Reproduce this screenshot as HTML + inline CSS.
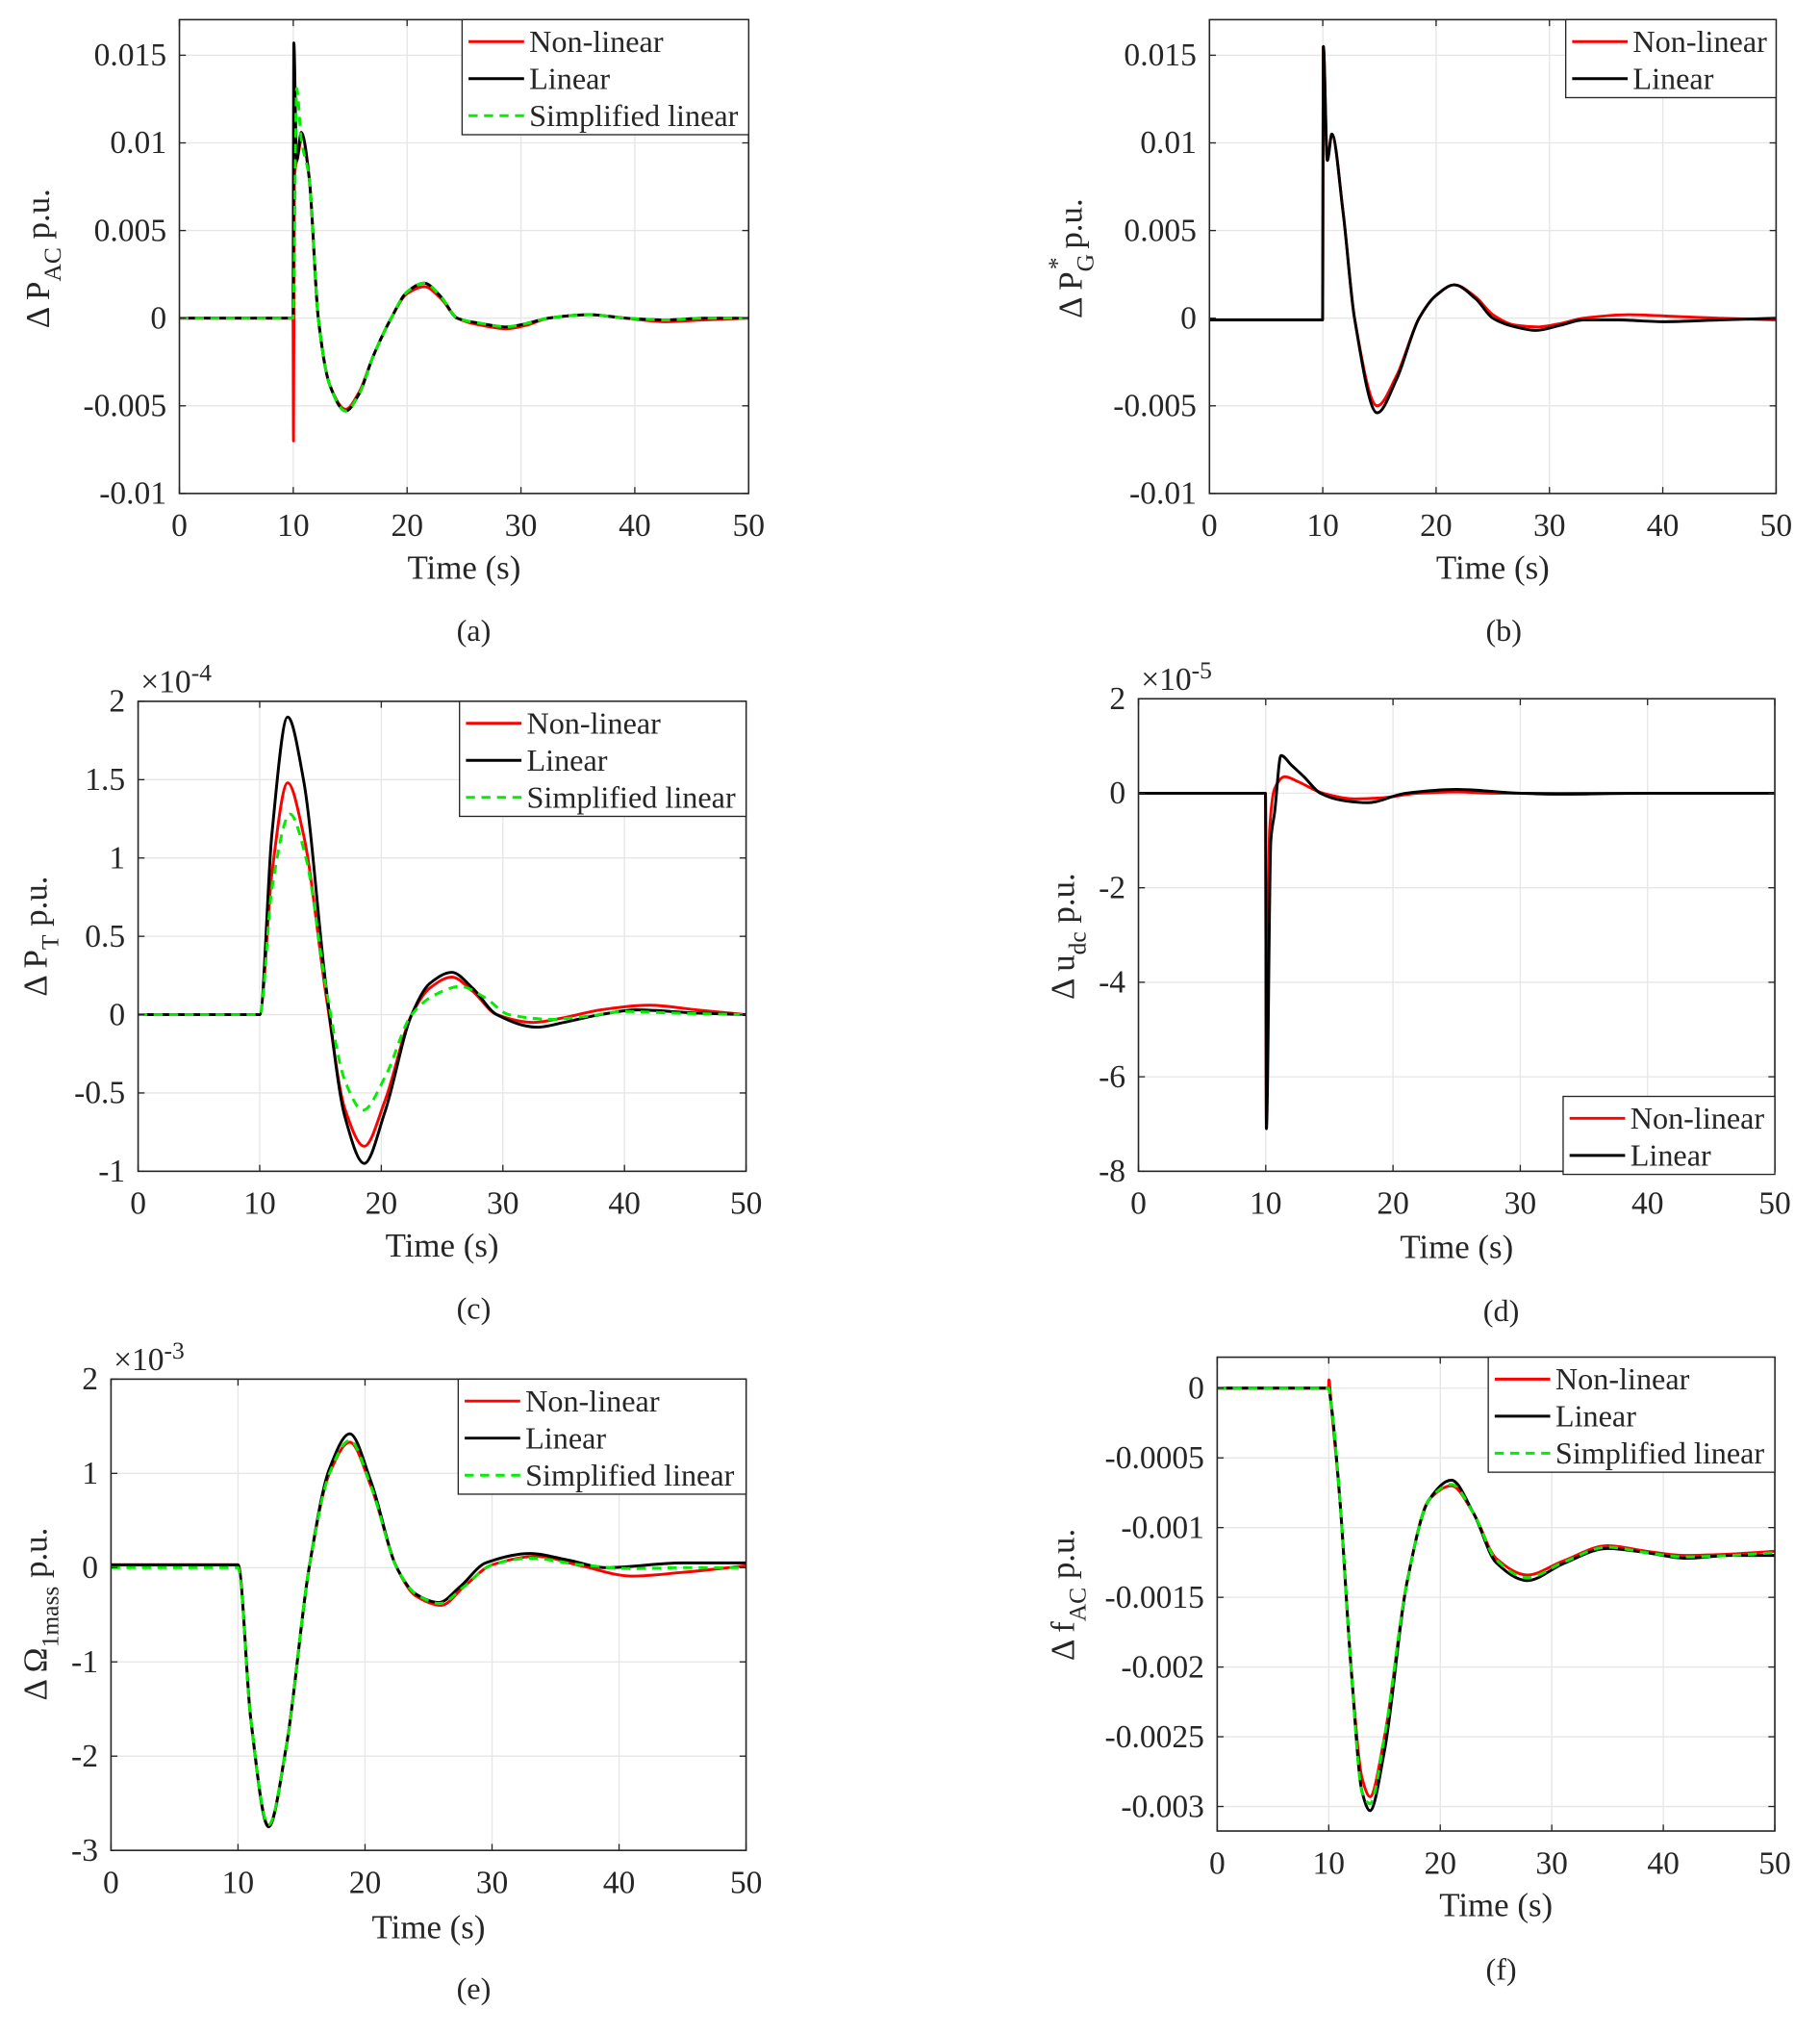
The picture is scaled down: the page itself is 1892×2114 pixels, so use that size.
<!DOCTYPE html>
<html><head><meta charset="utf-8"><style>
html,body{margin:0;padding:0;background:#fff}
svg{display:block}
text{font-family:"Liberation Serif",serif;fill:#262626}
</style></head><body>
<svg id="fig" width="1892" height="2114" viewBox="0 0 1410 1575" xmlns="http://www.w3.org/2000/svg"></svg>
<script>
// ---------- Panel (a) ----------
const aNonT=[0,9.98,10.02,10.1,10.4,10.8,11.4,12.2,13.2,14.6,15.8,17,18.6,20,21.5,23,24.4,26.5,28.7,30.5,32.4,36,39.2,42.8,46,50];
const aNonV=[0,0,-0.007,0.008,0.0092,0.0104,0.008,0.0,-0.0038,-0.0052,-0.0042,-0.0022,0.0,0.0014,0.0018,0.0011,0.0,-0.0004,-0.0006,-0.0004,0.0,0.0002,0.0,-0.0002,-0.0001,0];
const aLinT=[0,9.98,10.05,10.3,10.7,11.4,12.2,13.2,14.6,15.8,17,18.6,20,21.5,23,24.4,26.5,28.7,30.5,32.4,36,39.2,42.8,46,50];
const aLinV=[0,0,0.0157,0.009,0.0106,0.008,0.0,-0.0038,-0.0053,-0.0043,-0.0022,0.0,0.0015,0.002,0.0012,0.0,-0.0003,-0.0005,-0.0003,0.0,0.0002,0.0,-0.0001,0,0];
const aSimT=[0,9.98,10.3,10.7,11.4,12.2,13.2,14.6,15.8,17,18.6,20,21.5,23,24.4,26.5,28.7,30.5,32.4,36,39.2,42.8,46,50];
const aSimV=[0,0,0.0131,0.0102,0.008,0.0,-0.0038,-0.0053,-0.0043,-0.0022,0.0,0.0015,0.002,0.0012,0.0,-0.0003,-0.0005,-0.0003,0.0,0.0002,0.0,-0.0001,0,0];
const aYTicks=[-0.01,-0.005,0,0.005,0.01,0.015];
const aYLabels=["-0.01","-0.005","0","0.005","0.01","0.015"];
// ---------- Panel (b) ----------
const bNonT=[0,9.98,10.05,10.4,10.8,11.8,12.8,14.8,16.5,18.5,20,21.6,23.5,25,27,29,31,33,37,41,45,50];
const bNonV=[-0.0001,-0.0001,0.0155,0.009,0.0105,0.006,0.0,-0.005,-0.0033,0.0,0.0013,0.0019,0.0012,0.0002,-0.0004,-0.0005,-0.0003,0.0,0.0002,0.0001,0,-0.0001];
const bLinT=[0,9.98,10.05,10.4,10.8,11.8,12.8,14.8,16.5,18.5,20,21.6,23.5,25,27,28.8,31,33,36,40,45,50];
const bLinV=[-0.0001,-0.0001,0.0155,0.009,0.0105,0.006,0.0,-0.0054,-0.0035,0.0,0.0013,0.0019,0.0011,0.0,-0.0005,-0.0007,-0.0004,-0.0001,-0.0001,-0.0002,-0.0001,0];
const bYTicks=[-0.01,-0.005,0,0.005,0.01,0.015];
const bYLabels=["-0.01","-0.005","0","0.005","0.01","0.015"];
// ---------- Panel (c) (x1e-4) ----------
const cNonT=[0,10,11,12.3,13.6,15.5,17,18.6,20.3,22.5,24,25.8,27.5,29.5,32.5,35,38,42,46,50];
const cNonV=[0,0,0.9,1.48,1.15,0.1,-0.6,-0.84,-0.55,0.0,0.17,0.24,0.15,0.0,-0.05,-0.02,0.03,0.06,0.03,0];
const cLinT=[0,10,11,12.3,13.6,15.5,17,18.6,20.3,22.5,24,25.8,27.5,29.5,32.8,35,38,41,46,50];
const cLinV=[0,0,1.15,1.9,1.5,0.15,-0.65,-0.95,-0.62,0.0,0.2,0.27,0.17,0.0,-0.08,-0.05,0.0,0.03,0.01,0];
const cSimT=[0,10,11,12.5,13.8,15.5,17,18.5,20.3,22.5,24.5,26.5,28.5,30.5,34,37,40,44,50];
const cSimV=[0,0,0.8,1.28,1.0,0.15,-0.42,-0.61,-0.4,0.0,0.13,0.18,0.11,0.0,-0.03,-0.01,0.02,0.01,0];
const cYTicks=[-1,-0.5,0,0.5,1,1.5,2];
const cYLabels=["-1","-0.5","0","0.5","1","1.5","2"];
// ---------- Panel (d) (x1e-5) ----------
const dNonT=[0,9.98,10.05,10.3,10.7,11.5,12.5,14.5,17,19,22,25,28,32,50];
const dNonV=[0,0,-6.9,-0.8,0.1,0.35,0.25,0.0,-0.12,-0.1,0.0,0.03,0.0,0,0];
const dLinT=[0,9.98,10.05,10.4,10.7,11.2,12,13,14.3,16,18,21,25,30,33,40,50];
const dLinV=[0,0,-7.1,-1.0,-0.4,0.8,0.6,0.35,0.0,-0.15,-0.2,0.0,0.08,0.0,-0.02,0,0];
const dYTicks=[-8,-6,-4,-2,0,2];
const dYLabels=["-8","-6","-4","-2","0","2"];
// ---------- Panel (e) (x1e-3) ----------
const eNonT=[0,10,11,12.4,13.8,15.6,17.2,18.8,20.5,22.5,24,26,27.8,30,33.5,37,41,45,50];
const eNonV=[0.03,0.03,-1.6,-2.74,-1.9,0.0,1.0,1.33,0.85,0.0,-0.3,-0.4,-0.2,0.03,0.12,0.02,-0.09,-0.05,0.02];
const eLinT=[0,10,11,12.4,13.8,15.6,17.2,18.8,20.5,22.5,24,25.8,27.5,29.5,33,36,39,45,50];
const eLinV=[0.03,0.03,-1.6,-2.75,-1.9,0.0,1.05,1.42,0.9,0.0,-0.28,-0.37,-0.2,0.05,0.15,0.08,0.0,0.05,0.05];
const eSimT=[0,10,11,12.4,13.8,15.6,17.2,18.8,20.5,22.5,24,25.9,27.8,30,33,37,41,45,50];
const eSimV=[0,0,-1.6,-2.73,-1.9,0.0,1.0,1.35,0.85,0.0,-0.28,-0.38,-0.2,0.03,0.1,0.03,-0.01,0,0];
const eYTicks=[-3,-2,-1,0,1,2];
const eYLabels=["-3","-2","-1","0","1","2"];
// ---------- Panel (f) ----------
const fNonT=[0,9.98,10.02,10.2,11,12,13,13.7,15,17,19,21,23,25,27.8,31,35,38.5,42,46,50];
const fNonV=[0,0,0.00006,-0.0001,-0.0008,-0.002,-0.0028,-0.00293,-0.0025,-0.0014,-0.0008,-0.0007,-0.0009,-0.00122,-0.00134,-0.00124,-0.00113,-0.00117,-0.0012,-0.00119,-0.00117];
const fLinT=[0,9.98,10.2,11,12,13,13.7,15,17,19,21,23,25,27.8,31,35,38.5,42,46,50];
const fLinV=[0,0,-0.0001,-0.0008,-0.002,-0.0029,-0.00303,-0.0026,-0.0014,-0.0008,-0.00066,-0.0009,-0.00125,-0.00138,-0.00126,-0.00115,-0.00118,-0.00122,-0.0012,-0.0012];
const fSimT=[0,9.98,10.2,11,12,13,13.7,15,17,19,21,23,25,27.8,31,35,38.5,42,46,50];
const fSimV=[0,0,-0.0001,-0.0008,-0.002,-0.0029,-0.00298,-0.0025,-0.0014,-0.0008,-0.00069,-0.0009,-0.00123,-0.00136,-0.00125,-0.00114,-0.00118,-0.00121,-0.0012,-0.00118];
const fYTicks=[-0.003,-0.0025,-0.002,-0.0015,-0.001,-0.0005,0];
const fYLabels=["-0.003","-0.0025","-0.002","-0.0015","-0.001","-0.0005","0"];

const xTicks=[0,10,20,30,40,50];
const xLabels=["0","10","20","30","40","50"];

const NS="http://www.w3.org/2000/svg";
const fig=document.getElementById('fig');
function mk(tag,attrs,parent){const e=document.createElementNS(NS,tag);for(const k in attrs)e.setAttribute(k,attrs[k]);(parent||fig).appendChild(e);return e;}

function monoPath(xs,ys){
  const n=xs.length;const d=[],h=[],m=new Array(n).fill(0);
  for(let i=0;i<n-1;i++){h.push(xs[i+1]-xs[i]);d.push((ys[i+1]-ys[i])/h[i]);}
  m[0]=d[0];m[n-1]=d[n-2];
  for(let i=1;i<n-1;i++){
    if(d[i-1]*d[i]<=0){m[i]=0;continue;}
    const w1=2*h[i]+h[i-1],w2=h[i]+2*h[i-1];
    m[i]=(w1+w2)/(w1/d[i-1]+w2/d[i]);
  }
  let p="M"+xs[0].toFixed(2)+","+ys[0].toFixed(2);
  for(let i=0;i<n-1;i++){const q=h[i]/3;
    p+=" C"+(xs[i]+q).toFixed(2)+","+(ys[i]+m[i]*q).toFixed(2)+" "+(xs[i+1]-q).toFixed(2)+","+(ys[i+1]-m[i+1]*q).toFixed(2)+" "+xs[i+1].toFixed(2)+","+ys[i+1].toFixed(2);}
  return p;
}

function panel(cfg){
  const g=mk('g',{});
  
  
  const {x0,x1,y0,y1,ymin,ymax}=cfg;
  const sx=t=>x0+(t-0)/(50-0)*(x1-x0);
  const sy=v=>y1-(v-ymin)/(ymax-ymin)*(y1-y0);
  mk('rect',{x:x0,y:y0,width:x1-x0,height:y1-y0,fill:'#fff'},g);
  xTicks.forEach(t=>{const l=mk('line',{x1:sx(t),x2:sx(t),y1:y0,y2:y1,stroke:'#e6e6e6','stroke-width':1},g);
    });
  cfg.yt.forEach(v=>{const l=mk('line',{x1:x0,x2:x1,y1:sy(v),y2:sy(v),stroke:'#e6e6e6','stroke-width':1},g);
    });
  const cl=mk('clipPath',{id:'clip'+cfg.id},g);mk('rect',{x:x0,y:y0,width:x1-x0,height:y1-y0},cl);
  cfg.series.forEach(s=>{
    const p=mk('path',{d:monoPath(s.t.map(sx),s.v.map(sy)),fill:'none',stroke:s.c,'stroke-width':2.2,'stroke-dasharray':s.dash?'7,5':'none','clip-path':'url(#clip'+cfg.id+')','stroke-linejoin':'round'},g);
    
  });
  const bx=mk('rect',{x:x0,y:y0,width:x1-x0,height:y1-y0,fill:'none',stroke:'#262626','stroke-width':1.2},g);
  
  xTicks.forEach((t,i)=>{mk('line',{x1:sx(t),x2:sx(t),y1:y1,y2:y1-5,stroke:'#262626'},g);mk('line',{x1:sx(t),x2:sx(t),y1:y0,y2:y0+5,stroke:'#262626'},g);
    const tx=mk('text',{x:sx(t),y:y1+33,'text-anchor':'middle','font-size':25},g);tx.textContent=xLabels[i];
    });
  cfg.yt.forEach((v,i)=>{mk('line',{x1:x0,x2:x0+5,y1:sy(v),y2:sy(v),stroke:'#262626'},g);mk('line',{x1:x1,x2:x1-5,y1:sy(v),y2:sy(v),stroke:'#262626'},g);
    const tx=mk('text',{x:x0-10,y:sy(v)+8,'text-anchor':'end','font-size':25},g);tx.textContent=cfg.yl[i];
    });
  if(cfg.exp){const ex=mk('text',{x:x0+2,y:y0-7,'font-size':25},g);ex.innerHTML='×10<tspan dy="-9" font-size="19">'+cfg.exp+'</tspan>';
    }
  if(cfg.xlab){const xl=mk('text',{x:(x0+x1)/2,y:cfg.xlabY,'text-anchor':'middle','font-size':26},g);xl.textContent='Time (s)';
    }
  const yl=mk('text',{transform:'translate('+cfg.ylX+','+cfg.ylY+') rotate(-90)','text-anchor':'middle','font-size':26},g);
  yl.innerHTML=cfg.ylab;
  
  const cap=mk('text',{x:cfg.capX,y:cfg.capY,'text-anchor':'middle','font-size':24},g);cap.textContent='('+cfg.id+')';
  
  const L=cfg.leg;
  const lg=mk('g',{},g);
  
  mk('rect',{x:L.x,y:L.y,width:L.w,height:28.7*cfg.series.length+3,fill:'#fff',stroke:'#262626','stroke-width':1},lg);
  cfg.series.forEach((s,i)=>{const yy=L.y+17+28.7*i;
    mk('line',{x1:L.x+5,x2:L.x+48,y1:yy,y2:yy,stroke:s.c,'stroke-width':2.2,'stroke-dasharray':s.dash?'7,5':'none'},lg);
    const t=mk('text',{x:L.x+52,y:yy+8,'font-size':24},lg);t.textContent=s.name;
    });
}
const R='#ff0000',K='#000000',G='#00ee00';
panel({id:'a',x0:139,x1:580,y0:15,y1:382,ymin:-0.01,ymax:0.01703,yt:aYTicks,yl:aYLabels,xlab:true,xlabY:448,ylX:38,ylY:200,
  ylab:'Δ P<tspan dy="9" font-size="19">AC</tspan><tspan dy="-9"> p.u.</tspan>',capX:367,capY:496,leg:{x:358,y:15,w:222},
  series:[{key:'nonlinear',name:'Non-linear',c:R,t:aNonT,v:aNonV},{key:'linear',name:'Linear',c:K,t:aLinT,v:aLinV},{key:'simplified',name:'Simplified linear',c:G,dash:1,t:aSimT,v:aSimV}]});
panel({id:'b',x0:937,x1:1376,y0:15,y1:382,ymin:-0.01,ymax:0.01703,yt:bYTicks,yl:bYLabels,xlab:true,xlabY:448,ylX:838,ylY:200,
  ylab:'Δ P<tspan dy="9" font-size="19">G</tspan><tspan dx="-12" dy="-22" font-size="19">*</tspan><tspan dy="13"> p.u.</tspan>',capX:1165,capY:496,leg:{x:1213,y:15,w:163},
  series:[{key:'nonlinear',name:'Non-linear',c:R,t:bNonT,v:bNonV},{key:'linear',name:'Linear',c:K,t:bLinT,v:bLinV}]});
panel({id:'c',x0:107,x1:578,y0:543,y1:907,ymin:-1,ymax:2,yt:cYTicks,yl:cYLabels,exp:'-4',xlab:true,xlabY:973,ylX:36,ylY:725,
  ylab:'Δ P<tspan dy="9" font-size="19">T</tspan><tspan dy="-9"> p.u.</tspan>',capX:367,capY:1021,leg:{x:356,y:543,w:222},
  series:[{key:'nonlinear',name:'Non-linear',c:R,t:cNonT,v:cNonV},{key:'linear',name:'Linear',c:K,t:cLinT,v:cLinV},{key:'simplified',name:'Simplified linear',c:G,dash:1,t:cSimT,v:cSimV}]});
panel({id:'d',x0:882,x1:1375,y0:541,y1:907,ymin:-8,ymax:2,yt:dYTicks,yl:dYLabels,exp:'-5',xlab:true,xlabY:974,ylX:832,ylY:725,
  ylab:'Δ u<tspan dy="9" font-size="19">dc</tspan><tspan dy="-9"> p.u.</tspan>',capX:1163,capY:1023,leg:{x:1211,y:849,w:164},
  series:[{key:'nonlinear',name:'Non-linear',c:R,t:dNonT,v:dNonV},{key:'linear',name:'Linear',c:K,t:dLinT,v:dLinV}]});
panel({id:'e',x0:86,x1:578,y0:1068,y1:1433,ymin:-3,ymax:2,yt:eYTicks,yl:eYLabels,exp:'-3',xlab:true,xlabY:1501,ylX:36,ylY:1250,
  ylab:'Δ Ω<tspan dy="9" font-size="19">1mass</tspan><tspan dy="-9"> p.u.</tspan>',capX:367,capY:1548,leg:{x:355,y:1068,w:223},
  series:[{key:'nonlinear',name:'Non-linear',c:R,t:eNonT,v:eNonV},{key:'linear',name:'Linear',c:K,t:eLinT,v:eLinV},{key:'simplified',name:'Simplified linear',c:G,dash:1,t:eSimT,v:eSimV}]});
panel({id:'f',x0:943,x1:1375,y0:1051,y1:1418,ymin:-0.003176,ymax:0.000222,yt:fYTicks,yl:fYLabels,xlab:true,xlabY:1484,ylX:832,ylY:1235,
  ylab:'Δ f<tspan dy="9" font-size="19">AC</tspan><tspan dy="-9"> p.u.</tspan>',capX:1163,capY:1533,leg:{x:1153,y:1051,w:222},
  series:[{key:'nonlinear',name:'Non-linear',c:R,t:fNonT,v:fNonV},{key:'linear',name:'Linear',c:K,t:fLinT,v:fLinV},{key:'simplified',name:'Simplified linear',c:G,dash:1,t:fSimT,v:fSimV}]});
</script>
</body></html>
